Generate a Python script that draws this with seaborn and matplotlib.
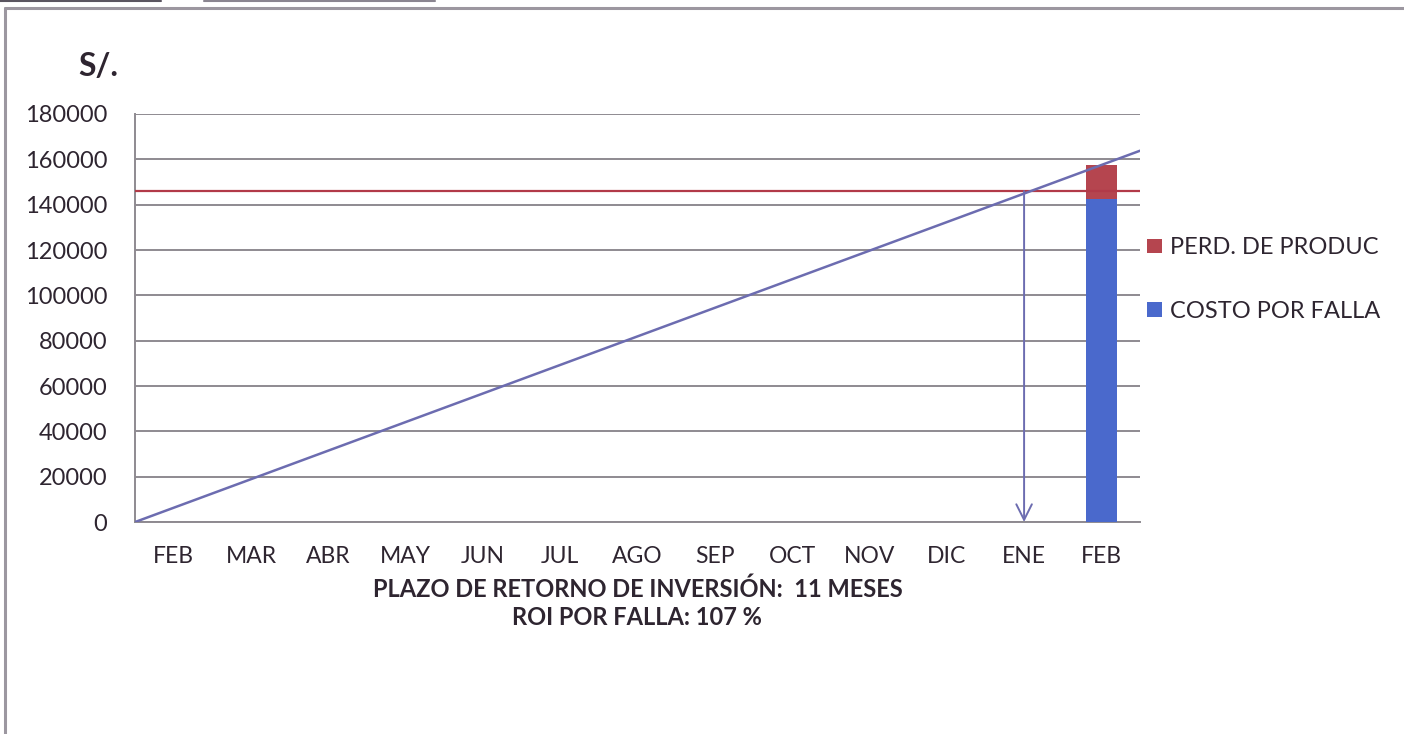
import matplotlib
matplotlib.use("Agg")
import matplotlib.pyplot as plt
from matplotlib.lines import Line2D
from matplotlib.patches import Patch
import numpy as np
import pandas as pd
import seaborn as sns

# Month labels (Feb to Feb of the following year)
months = ["FEB", "MAR", "ABR", "MAY", "JUN", "JUL", "AGO", "SEP",
          "OCT", "NOV", "DIC", "ENE", "FEB"]

# Cumulative savings, sampled at the month boundaries
savings_x = [-0.5, 0.5, 1.5, 2.5, 3.5, 4.5, 5.5, 6.5, 7.5, 8.5, 9.5, 10.5, 11.5, 12.5]
savings = [0, 12600, 25200, 37800, 50400, 63000, 75600, 88200,
           100800, 113400, 126000, 138600, 151200, 163800]

# Investment level
investment = 146000

# Failure costs (only in the last month)
costo_falla = [0, 0, 0, 0, 0, 0, 0, 0, 0, 0, 0, 0, 142500]
perd_produc = [0, 0, 0, 0, 0, 0, 0, 0, 0, 0, 0, 0, 15000]

# Payback month index (ENE)
payback_idx = 11

yticks = [0, 20000, 40000, 60000, 80000, 100000, 120000, 140000, 160000, 180000]

BLUE = "#4A69CC"
RED = "#B5454F"
LINE = "#6C6CB0"
HLINE = "#B23A48"
GRID = "#8E8A90"
TEXT = "#2E2530"

sns.set_theme(style="white")
plt.rcParams["font.family"] = ["Lato", "DejaVu Sans"]

fig = plt.figure(figsize=(14.04, 7.34), dpi=100)
ax = fig.add_axes([0.0962, 0.2888, 0.7158, 0.5559])

df = pd.DataFrame({
    "mes": list(range(len(months))),
    "total": np.array(costo_falla) + np.array(perd_produc),
    "costo": costo_falla,
})

# Stacked bar: total (red) underneath, blue cost on top of it
sns.barplot(data=df, x="mes", y="total", color=RED, width=0.4,
            saturation=1, linewidth=0, ax=ax, zorder=3)
sns.barplot(data=df, x="mes", y="costo", color=BLUE, width=0.4,
            saturation=1, linewidth=0, ax=ax, zorder=3)

# Investment line
ax.axhline(investment, color=HLINE, lw=1.6, zorder=4)

# Cumulative savings line
sns.lineplot(x=savings_x, y=savings, color=LINE, lw=1.8, ax=ax, zorder=5,
             estimator=None, sort=False)

# Payback arrow
ax.annotate("", xy=(payback_idx, 0), xytext=(payback_idx, investment),
            arrowprops=dict(arrowstyle="->", color=LINE, lw=1.4,
                            mutation_scale=28, shrinkA=0, shrinkB=0),
            zorder=6)

ax.set_xlim(-0.5, len(months) - 0.5)
ax.set_ylim(0, 180000)
ax.set_yticks(yticks)
ax.set_yticklabels([str(v) for v in yticks], fontsize=17, color=TEXT)
ax.yaxis.grid(True, color=GRID, lw=1.4, zorder=0)
ax.set_axisbelow(True)

ax.set_xticks(range(len(months)))
ax.set_xticklabels(months, fontsize=16.5, color=TEXT)
ax.set_xticks(np.arange(-0.5, len(months)), minor=True)
ax.tick_params(axis="x", which="major", length=0, pad=17)
ax.tick_params(axis="x", which="minor", length=6, color=GRID, width=1.2, direction="out")
ax.tick_params(axis="y", length=7, color=GRID, width=1.2, direction="out", pad=13)
ax.set_xlabel("")
ax.set_ylabel("")

for side in ["top", "right"]:
    ax.spines[side].set_visible(False)
for side in ["left", "bottom"]:
    ax.spines[side].set_color(GRID)
    ax.spines[side].set_linewidth(1.4)

# Currency label
fig.text(0.0555, 0.909, "S/.", fontsize=23, fontweight="bold", color=TEXT,
         ha="left", va="center")

# Summary lines below the axis
fig.text(0.454, 0.197, "PLAZO DE RETORNO DE INVERSIÓN:  11 MESES", fontsize=17,
         fontweight="bold", color=TEXT, ha="center", va="center")
fig.text(0.454, 0.159, "ROI POR FALLA: 107 %", fontsize=17,
         fontweight="bold", color=TEXT, ha="center", va="center")

# Legend
handles = [Patch(facecolor=RED, edgecolor="none", label="PERD. DE PRODUC"),
           Patch(facecolor=BLUE, edgecolor="none", label="COSTO POR FALLA")]
fig.legend(handles=handles, loc="center left", bbox_to_anchor=(0.817, 0.619),
           frameon=False, fontsize=17, handlelength=0.63, handleheight=0.55,
           handletextpad=0.35, labelspacing=1.8, labelcolor=TEXT,
           borderaxespad=0, borderpad=0)

# Frame around the chart area
fig.add_artist(Line2D([0.0036, 0.0036], [0.0, 0.989], color="#9C97A0", lw=2.2,
                      transform=fig.transFigure))
fig.add_artist(Line2D([0.0036, 1.0], [0.989, 0.989], color="#9C97A0", lw=2.2,
                      transform=fig.transFigure))
fig.add_artist(Line2D([0.0, 0.115], [0.999, 0.999], color="#5A5560", lw=1.5,
                      transform=fig.transFigure))
fig.add_artist(Line2D([0.145, 0.31], [0.999, 0.999], color="#8A8590", lw=1.5,
                      transform=fig.transFigure))

fig.savefig("out.png", dpi=100, facecolor="white")
